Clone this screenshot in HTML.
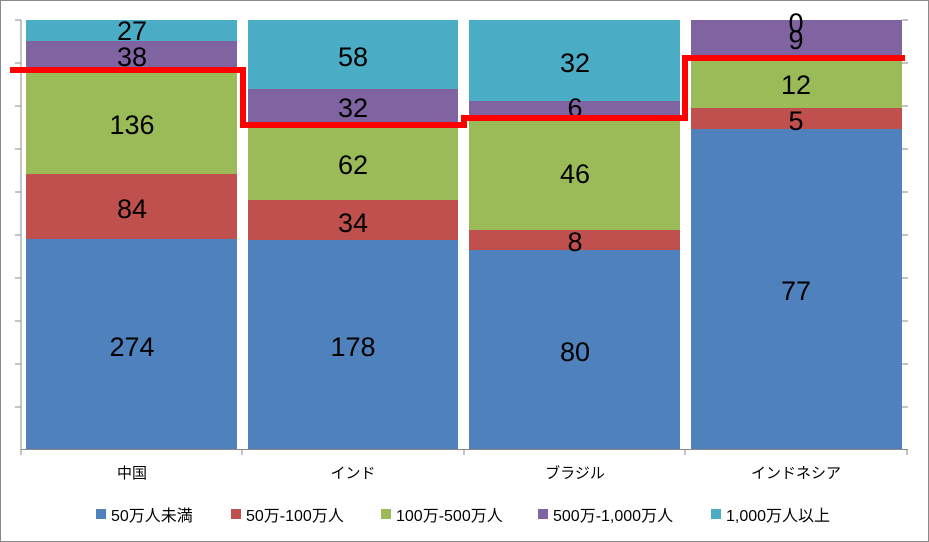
<!DOCTYPE html><html><head><meta charset="utf-8"><style>
body{margin:0;background:#fff}
svg{display:block}
text{font-family:"Liberation Sans","Noto Sans CJK JP",sans-serif}
</style></head><body>
<svg width="929" height="542" viewBox="0 0 929 542">
<rect x="0.5" y="0.5" width="928" height="541" fill="#fff" stroke="#898989"/>
<g stroke="#898989" stroke-width="1">
<line x1="21" y1="20" x2="21" y2="449"/>
<line x1="15" y1="20" x2="21" y2="20"/><line x1="15" y1="63" x2="21" y2="63"/><line x1="15" y1="106" x2="21" y2="106"/><line x1="15" y1="149" x2="21" y2="149"/><line x1="15" y1="192" x2="21" y2="192"/><line x1="15" y1="235" x2="21" y2="235"/><line x1="15" y1="278" x2="21" y2="278"/><line x1="15" y1="321" x2="21" y2="321"/><line x1="15" y1="364" x2="21" y2="364"/><line x1="15" y1="407" x2="21" y2="407"/>
<line x1="902" y1="20" x2="908" y2="20"/><line x1="902" y1="63" x2="908" y2="63"/><line x1="902" y1="106" x2="908" y2="106"/><line x1="902" y1="149" x2="908" y2="149"/><line x1="902" y1="192" x2="908" y2="192"/><line x1="902" y1="235" x2="908" y2="235"/><line x1="902" y1="278" x2="908" y2="278"/><line x1="902" y1="321" x2="908" y2="321"/><line x1="902" y1="364" x2="908" y2="364"/><line x1="902" y1="407" x2="908" y2="407"/>
<line x1="21" y1="449.5" x2="908" y2="449.5"/>
<line x1="21" y1="449" x2="21" y2="455"/><line x1="242" y1="449" x2="242" y2="455"/><line x1="464" y1="449" x2="464" y2="455"/><line x1="685" y1="449" x2="685" y2="455"/><line x1="907" y1="449" x2="907" y2="455"/>
</g>
<rect x="26" y="20" width="211" height="21" fill="#4bacc6"/>
<rect x="26" y="41" width="211" height="29" fill="#8064a2"/>
<rect x="26" y="70" width="211" height="104" fill="#9bbb59"/>
<rect x="26" y="174" width="211" height="65" fill="#c0504d"/>
<rect x="26" y="239" width="211" height="210" fill="#4f81bd"/>
<rect x="248" y="20" width="210" height="69" fill="#4bacc6"/>
<rect x="248" y="89" width="210" height="38" fill="#8064a2"/>
<rect x="248" y="127" width="210" height="73" fill="#9bbb59"/>
<rect x="248" y="200" width="210" height="40" fill="#c0504d"/>
<rect x="248" y="240" width="210" height="209" fill="#4f81bd"/>
<rect x="469" y="20" width="211" height="81" fill="#4bacc6"/>
<rect x="469" y="101" width="211" height="15" fill="#8064a2"/>
<rect x="469" y="116" width="211" height="114" fill="#9bbb59"/>
<rect x="469" y="230" width="211" height="20" fill="#c0504d"/>
<rect x="469" y="250" width="211" height="199" fill="#4f81bd"/>
<rect x="691" y="20" width="211" height="38" fill="#8064a2"/>
<rect x="691" y="58" width="211" height="50" fill="#9bbb59"/>
<rect x="691" y="108" width="211" height="21" fill="#c0504d"/>
<rect x="691" y="129" width="211" height="320" fill="#4f81bd"/>
<g font-size="27" text-anchor="middle" fill="#000">
<text x="132" y="40">27</text><text x="132" y="66">38</text><text x="132" y="134">136</text><text x="132" y="218">84</text><text x="132" y="356">274</text>
<text x="353" y="66">58</text><text x="353" y="117">32</text><text x="353" y="174">62</text><text x="353" y="232">34</text><text x="353" y="356">178</text>
<text x="575" y="72">32</text><text x="575" y="117">6</text><text x="575" y="183">46</text><text x="575" y="251">8</text><text x="575" y="361">80</text>
<text x="796" y="32">0</text><text x="796" y="49">9</text><text x="796" y="94">12</text><text x="796" y="130">5</text><text x="796" y="300">77</text>
</g>
<polyline points="10,70 243,70 243,125 464,125 464,118 685,118 685,58 905,58" fill="none" stroke="#ff0000" stroke-width="6"/>
<g font-size="15" text-anchor="middle" fill="#000">
<text x="132" y="478">中国</text><text x="353" y="478">インド</text><text x="575" y="478">ブラジル</text><text x="796" y="478">インドネシア</text>
</g>
<g font-size="16" fill="#000">
<rect x="96" y="509" width="10" height="10" fill="#4f81bd"/><text x="111" y="521">50万人未満</text>
<rect x="231" y="509" width="10" height="10" fill="#c0504d"/><text x="246" y="521">50万-100万人</text>
<rect x="381" y="509" width="10" height="10" fill="#9bbb59"/><text x="396" y="521">100万-500万人</text>
<rect x="538" y="509" width="10" height="10" fill="#8064a2"/><text x="553" y="521">500万-1,000万人</text>
<rect x="711" y="509" width="10" height="10" fill="#4bacc6"/><text x="726" y="521">1,000万人以上</text>
</g>
</svg>
</body></html>
